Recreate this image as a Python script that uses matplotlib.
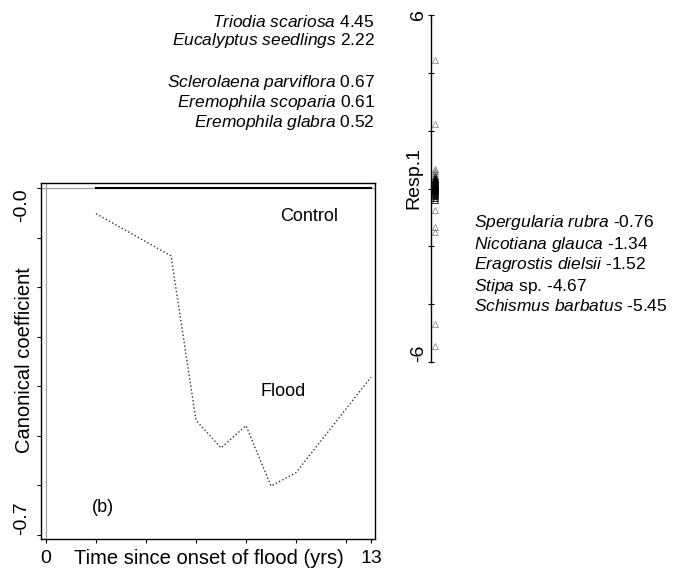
import matplotlib.pyplot as plt

plt.rcParams['font.family'] = 'Liberation Sans'
plt.rcParams['mathtext.fontset'] = 'custom'
plt.rcParams['mathtext.rm'] = 'Liberation Sans'
plt.rcParams['mathtext.it'] = 'Liberation Sans:italic'

# canonical coefficient over time (flood vs control)
years = [2, 5, 6, 7, 8, 9, 10, 13]
flood = [-0.052, -0.137, -0.469, -0.525, -0.480, -0.602, -0.575, -0.382]
control_years = [2, 13]
control = [0.0, 0.0]

# species weights on Resp.1
top_species = ['Triodia scariosa', 'Eucalyptus seedlings', 'Sclerolaena parviflora',
               'Eremophila scoparia', 'Eremophila glabra']
top_weights = [4.45, 2.22, 0.67, 0.61, 0.52]
low_species = ['Spergularia rubra', 'Nicotiana glauca', 'Eragrostis dielsii',
               'Stipa', 'Schismus barbatus']
low_suffix = ['', '', '', ' sp.', '']
low_weights = [-0.76, -1.34, -1.52, -4.67, -5.45]
other_weights = [0.42, 0.38, 0.34, 0.31, 0.28, 0.25, 0.22, 0.2, 0.18, 0.16, 0.14,
                 0.12, 0.1, 0.09, 0.08, 0.06, 0.05, 0.04, 0.03, 0.02, 0.01, 0.0,
                 -0.01, -0.02, -0.03, -0.05, -0.07, -0.09, -0.11, -0.14, -0.18,
                 -0.22, -0.27, -0.33, -0.4]

W, H = 691, 571
fig = plt.figure(figsize=(W / 100, H / 100), dpi=100)

def fx(px):
    return px / W

def fy(py):
    return 1 - py / H

# main panel
ax = fig.add_axes([fx(41), fy(539), fx(375) - fx(41), fy(183) - fy(539)])
ax.axhline(0, color='#9a9a9a', lw=0.8)
ax.axvline(0, color='#9a9a9a', lw=0.8)
ax.plot(control_years, control, color='black', lw=1.5)
ax.plot(years, flood, color='#333333', ls=':', lw=1.0)
ax.set_xlim(-0.2, 13.16)
ax.set_ylim(-0.709, 0.0101)

ax.set_xticks([0, 2, 4, 6, 8, 10, 12, 13], ['0', '', '', '', '', '', '', '13'])
ax.set_yticks([0, -0.1, -0.2, -0.3, -0.4, -0.5, -0.6, -0.7],
              ['-0.0', '', '', '', '', '', '', '-0.7'])
ax.tick_params(axis='both', length=3, width=0.8, labelsize=14)
ax.tick_params(axis='x', pad=5)
ax.tick_params(axis='y', pad=5)
ylbls = ax.get_yticklabels()
for lbl in ylbls:
    lbl.set_rotation(90)
    lbl.set_va('center')
ylbls[0].set_va('top')
ylbls[-1].set_va('bottom')
for s in ax.spines.values():
    s.set_linewidth(1.0)

ax.text(10.52, -0.057, 'Control', fontsize=13, ha='center', va='center')
ax.text(9.48, -0.412, 'Flood', fontsize=13, ha='center', va='center')
ax.text(2.28, -0.646, '(b)', fontsize=13, ha='center', va='center')

fig.text(fx(24), fy(360), 'Canonical coefficient', fontsize=14.5, rotation=90,
         ha='center', va='center')
fig.text(fx(209), fy(558), 'Time since onset of flood (yrs)', fontsize=14.5,
         ha='center', va='center')

# Resp.1 axis
rax = fig.add_axes([fx(431), fy(362), 0.05, fy(15) - fy(362)])
rax.patch.set_visible(False)
for k in ['top', 'right', 'bottom']:
    rax.spines[k].set_visible(False)
rax.spines['left'].set_linewidth(1.0)
rax.set_xlim(0, 1)
rax.set_ylim(-6, 6)
rax.set_xticks([])
rax.set_yticks([6, 4, 2, 0, -2, -4, -6], ['6', '', '', '', '', '', '-6'])
rax.tick_params(axis='y', direction='inout', length=4, width=0.8, labelsize=14, pad=1)
rlbls = rax.get_yticklabels()
for lbl in rlbls:
    lbl.set_rotation(90)
    lbl.set_va('center')
rlbls[-1].set_va('bottom')

named_w = top_weights + low_weights
rax.plot([0.12] * len(named_w), named_w, '^', mfc='none', mec='black', alpha=0.45,
         ms=4.5, mew=0.6, clip_on=False)
rax.plot([0.12] * len(other_weights), other_weights, '^', mfc='none', mec='black',
         alpha=0.8, ms=4.5, mew=0.7, clip_on=False)
fig.text(fx(414), fy(178), 'Resp.1', fontsize=14, rotation=90, ha='center', va='center')

# species labels
def species_label(name, suffix, w):
    return r'$\it{' + name.replace(' ', r'\ ') + '}$' + suffix + f' {w:.2f}'

top_y = [22, 41, 83, 103, 122]
for name, w, py in zip(top_species, top_weights, top_y):
    fig.text(fx(375), fy(py), species_label(name, '', w), fontsize=12.5,
             ha='right', va='center')

low_y = [223, 244, 264, 286, 306]
for name, suf, w, py in zip(low_species, low_suffix, low_weights, low_y):
    fig.text(fx(474), fy(py), species_label(name, suf, w), fontsize=12.5,
             ha='left', va='center')

fig.savefig('out.png', dpi=100)
